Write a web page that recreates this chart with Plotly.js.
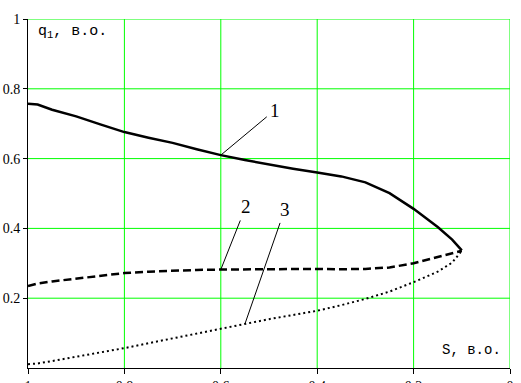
<!DOCTYPE html>
<html>
<head>
<meta charset="utf-8">
<script src="https://cdn.plot.ly/plotly-3.0.1.min.js"></script>
<style>
  html, body { margin: 0; padding: 0; background: #fff; }
  #chart { width: 521px; height: 383px; }
</style>
</head>
<body>
<div id="chart"></div>
<script>
// S, в.о. (x axis runs from 1 down to 0)
const S  = [1, 0.98, 0.95, 0.9, 0.85, 0.8, 0.75, 0.7, 0.65, 0.6, 0.55, 0.5, 0.45, 0.4, 0.35, 0.3, 0.25, 0.2, 0.15, 0.12, 0.1];
// curve 1 — solid
const q1 = [0.757, 0.755, 0.74, 0.721, 0.698, 0.676, 0.66, 0.645, 0.627, 0.61, 0.596, 0.583, 0.571, 0.56, 0.549, 0.532, 0.501, 0.456, 0.404, 0.368, 0.337];
// curve 2 — dashed
const q2 = [0.235, 0.242, 0.248, 0.256, 0.265, 0.272, 0.276, 0.279, 0.281, 0.282, 0.283, 0.284, 0.284, 0.284, 0.283, 0.284, 0.288, 0.300, 0.318, 0.328, 0.336];
// curve 3 — dotted
const q3 = [0.011, 0.013, 0.02, 0.032, 0.045, 0.057, 0.071, 0.085, 0.099, 0.112, 0.126, 0.14, 0.152, 0.164, 0.18, 0.198, 0.219, 0.246, 0.276, 0.302, 0.336];

const xTicks = [1, 0.8, 0.6, 0.4, 0.2, 0];
const xTickText = ['1', '0.8', '0.6', '0.4', '0.2', '0'];
const yTicks = [0.2, 0.4, 0.6, 0.8, 1];
const yTickText = ['0.2', '0.4', '0.6', '0.8', '1'];

const curveLabels = ['1', '2', '3'];

const GREEN = '#00ff00';
const serif = '"Liberation Serif", "Times New Roman", serif';
const mono = '"Liberation Mono", "Courier New", monospace';

const traces = [
  { x: S, y: q1, mode: 'lines', line: { color: '#000', width: 2.5 } },
  { x: S, y: q2, mode: 'lines', line: { color: '#000', width: 2.5, dash: '8px,4px' } },
  { x: S, y: q3, mode: 'lines', line: { color: '#000', width: 2, dash: '2px,3px' } },
];

// leader lines point at samples of each curve
const i1 = S.indexOf(0.6), i2 = S.indexOf(0.6), i3 = S.indexOf(0.55);
const leader = (x, y, text, ax, ay) => ({
  x, y, text, xref: 'x', yref: 'y',
  showarrow: true, arrowhead: 0, arrowwidth: 1, arrowcolor: '#000',
  ax, ay, standoff: 0, startstandoff: 2,
  font: { family: serif, size: 19, color: '#000' },
});

// green grid drawn as shapes so the lines at 1 and 0 show too
const gridLine = { color: GREEN, width: 1 };
const gridShapes = [
  ...xTicks.filter(v => v !== 1).map(v => ({
    type: 'line', layer: 'below', xref: 'x', yref: 'paper', x0: v, x1: v, y0: 0, y1: 1, line: gridLine,
  })),
  ...yTicks.map(v => ({
    type: 'line', layer: 'below', xref: 'paper', yref: 'y', x0: 0, x1: 1, y0: v, y1: v, line: gridLine,
  })),
];

const axisCommon = {
  autorange: false,
  showgrid: false,
  zeroline: false, showline: true, linecolor: '#000', linewidth: 1,
  ticks: 'outside', tickcolor: '#000',
  tickfont: { family: serif, size: 14, color: '#000' },
};

const layout = {
  width: 521, height: 383,
  margin: { l: 28, r: 11, t: 19, b: 15 },
  font: { family: serif, color: '#000' },
  paper_bgcolor: '#fff', plot_bgcolor: '#fff',
  showlegend: false,
  xaxis: { ...axisCommon, range: [1, 0], tickvals: xTicks, ticktext: xTickText, ticklen: 5 },
  yaxis: { ...axisCommon, range: [0, 1], tickvals: yTicks, ticktext: yTickText, ticklen: 4 },
  shapes: gridShapes,
  annotations: [
    { xref: 'paper', yref: 'paper', x: 0.017, y: 0.963, xanchor: 'left', yanchor: 'middle',
      text: 'q<sub>1</sub>, в.о.', showarrow: false, font: { family: mono, size: 15, color: '#000' } },
    { xref: 'paper', yref: 'paper', x: 0.986, y: 0.052, xanchor: 'right', yanchor: 'middle',
      text: 'S, в.о.', showarrow: false, font: { family: mono, size: 14, color: '#000' } },
    leader(S[i1], q1[i1], curveLabels[0], 54, -45),
    leader(S[i2], q2[i2], curveLabels[1], 25, -63),
    leader(S[i3], q3[i3], curveLabels[2], 40, -115),
  ],
};

Plotly.newPlot('chart', traces, layout, { staticPlot: true, displayModeBar: false });
</script>
</body>
</html>
